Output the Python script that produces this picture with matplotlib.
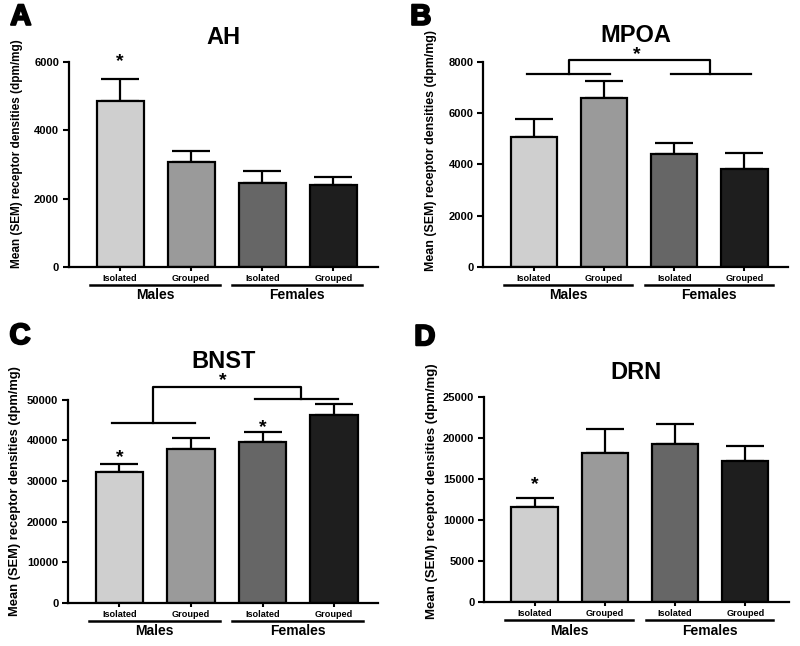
import matplotlib
matplotlib.use("Agg")
import matplotlib.pyplot as plt
import matplotlib.patheffects as pe
from matplotlib.transforms import blended_transform_factory

plt.rcParams['font.family'] = ['Liberation Sans', 'DejaVu Sans']
plt.rcParams['font.weight'] = 'bold'

# data
groups = ['Isolated', 'Grouped', 'Isolated', 'Grouped']
sexes = ['Males', 'Females']
colors = ['#cfcfcf', '#9a9a9a', '#666666', '#1e1e1e']

ah_mean = [4850, 3070, 2450, 2390]
ah_sem = [650, 330, 360, 255]
mpoa_mean = [5090, 6590, 4410, 3820]
mpoa_sem = [700, 650, 445, 640]
bnst_mean = [32130, 37870, 39670, 46390]
bnst_sem = [2130, 2700, 2460, 2620]
drn_mean = [11630, 18230, 19250, 17220]
drn_sem = [1090, 2840, 2430, 1820]

panels = [
    ('A', 'AH', ah_mean, ah_sem, 6000, [0, 2000, 4000, 6000]),
    ('B', 'MPOA', mpoa_mean, mpoa_sem, 8000, [0, 2000, 4000, 6000, 8000]),
    ('C', 'BNST', bnst_mean, bnst_sem, 50000, [0, 10000, 20000, 30000, 40000, 50000]),
    ('D', 'DRN', drn_mean, drn_sem, 25000, [0, 5000, 10000, 15000, 20000, 25000]),
]

# axes boxes in figure fractions [left, bottom, width, height]
boxes = [
    [0.086, 0.587, 0.386, 0.317],
    [0.604, 0.587, 0.381, 0.317],
    [0.085, 0.067, 0.388, 0.314],
    [0.605, 0.068, 0.381, 0.317],
]
title_y = [1.12, 1.13, 1.19, 1.12]
letter_xy = [(0.026, 0.974), (0.526, 0.974), (0.025, 0.48), (0.531, 0.478)]
ylabel_size = [8.5, 8.9, 9.3, 9.5]
ylabel_pos = [(-0.147, 0.551), (-0.151, 0.566), (-0.153, 0.55), (-0.152, 0.54)]


def star(ax, x, y):
    # glyph centre placed at (x, y)
    ax.annotate('*', xy=(x, y), xytext=(0, -4.5), textcoords='offset points',
                ha='center', va='baseline', fontsize=14, fontweight='bold',
                annotation_clip=False)


def bracket(ax, left, right, top, xs):
    kw = dict(color='black', lw=1.6, clip_on=False)
    ax.plot(left[:2], [left[2]] * 2, **kw)
    ax.plot(right[:2], [right[2]] * 2, **kw)
    ax.plot([xs[0], xs[0], xs[1], xs[1]], [left[2], top, top, right[2]], **kw)


fig = plt.figure(figsize=(8, 6.46), dpi=100)

x = [0, 1, 2, 3]
for i, (letter, title, mean, sem, ymax, ticks) in enumerate(panels):
    ax = fig.add_axes(boxes[i])
    ax.bar(x, mean, width=0.66, color=colors, edgecolor='black', linewidth=1.6, zorder=2)
    ax.errorbar(x, mean, yerr=[[0] * 4, sem], fmt='none', ecolor='black',
                elinewidth=1.6, capsize=13.5, capthick=1.6, zorder=1)
    ax.set_xlim(-0.72, 3.62)
    ax.set_ylim(0, ymax)
    ax.set_yticks(ticks)
    ax.set_yticklabels([str(t) for t in ticks], fontsize=8, fontweight='bold')
    ax.set_xticks(x)
    ax.set_xticklabels(groups, fontsize=6.6, fontweight='bold')
    ax.tick_params(axis='y', length=4, width=1.5, pad=3)
    ax.tick_params(axis='x', length=3, width=1.5, pad=2)
    for s in ['top', 'right']:
        ax.spines[s].set_visible(False)
    for s in ['left', 'bottom']:
        ax.spines[s].set_linewidth(1.6)
    ax.set_ylabel('Mean (SEM) receptor densities (dpm/mg)', fontsize=ylabel_size[i],
                  fontweight='bold')
    ax.yaxis.set_label_coords(*ylabel_pos[i])
    ax.text(0.5, title_y[i], title, transform=ax.transAxes, ha='center', va='center',
            fontsize=17, fontweight='bold')
    fig.text(letter_xy[i][0], letter_xy[i][1], letter, ha='center', va='center',
             fontsize=21, fontweight='bold',
             path_effects=[pe.withStroke(linewidth=1.5, foreground='black')])

    # group underlines and sex labels
    tr = blended_transform_factory(ax.transData, ax.transAxes)
    for j, sex in enumerate(sexes):
        x0 = 2 * j - 0.42
        x1 = 2 * j + 1.4
        ax.plot([x0, x1], [-0.088, -0.088], color='black', lw=1.8, transform=tr, clip_on=False)
        ax.text((x0 + x1) / 2, -0.14, sex, transform=tr, ha='center', va='center',
                fontsize=10, fontweight='bold')

    # significance markers
    if letter == 'A':
        star(ax, 0, 6060)
    if letter == 'B':
        bracket(ax, (-0.09, 1.08, 7540), (1.95, 3.1, 7540), 8090, (0.5, 2.51))
        star(ax, 1.46, 8350)
    if letter == 'C':
        bracket(ax, (-0.11, 1.05, 44260), (1.9, 3.05, 50250), 53280, (0.47, 2.54))
        star(ax, 1.45, 55170)
        star(ax, 0, 36200)
        star(ax, 2, 43600)
    if letter == 'D':
        star(ax, 0, 14510)

fig.savefig('out.png', dpi=100)
